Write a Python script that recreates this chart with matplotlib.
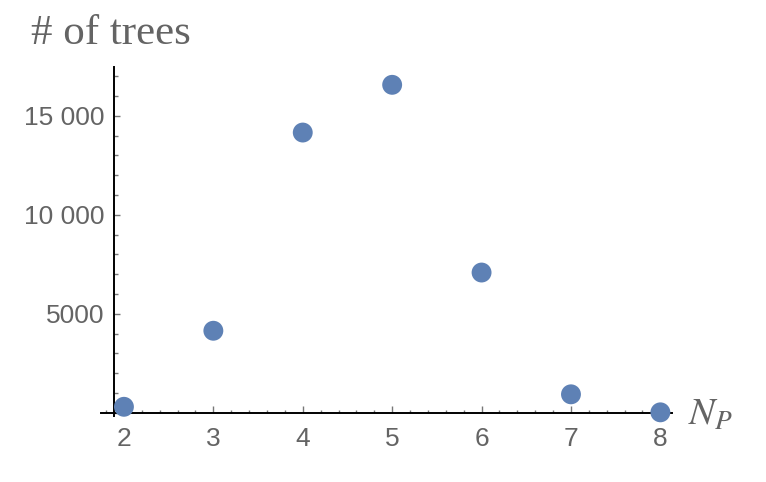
import matplotlib
matplotlib.use("Agg")
import matplotlib.pyplot as plt
from matplotlib.ticker import MultipleLocator, FuncFormatter

# dati
n_p = [2, 3, 4, 5, 6, 7, 8]
trees = [300, 4140, 14150, 16560, 7080, 930, 20]

grigio = '#646464'
blu = '#5E81B5'

plt.rcParams['mathtext.fontset'] = 'stix'

fig = plt.figure(figsize=(7.66, 4.82), dpi=100)
# assi posizionati in pixel
W, H = 766., 482.
left, right, top, bottom = 100.7, 672., 67., 415.7
ax = fig.add_axes([left / W, 1 - bottom / H, (right - left) / W, (bottom - top) / H])

ax.scatter(n_p, trees, s=205, c=blu, edgecolors='none', zorder=3, clip_on=False)

ax.set_xlim(1.74, 8.13)
ax.set_ylim(-150, 17460)

ax.spines['top'].set_visible(False)
ax.spines['right'].set_visible(False)
ax.spines['left'].set_position(('data', 1.885))
ax.spines['bottom'].set_position(('data', 0))
for sp in ('left', 'bottom'):
    ax.spines[sp].set_linewidth(1.4)
    ax.spines[sp].set_color('black')

ax.xaxis.set_major_locator(MultipleLocator(1))
ax.xaxis.set_minor_locator(MultipleLocator(0.2))
ax.yaxis.set_major_locator(MultipleLocator(5000))
ax.yaxis.set_minor_locator(MultipleLocator(1000))

def fmt(v, pos):
    v = int(round(v))
    if v == 0:
        return ''
    if v >= 10000:
        return '{:,}'.format(v).replace(',', ' ')
    return str(v)

ax.yaxis.set_major_formatter(FuncFormatter(fmt))

ax.tick_params(which='both', direction='in', color='#777777', width=1.0,
               labelcolor=grigio, labelsize=19)
ax.tick_params(axis='x', which='major', length=5, pad=10)
ax.tick_params(axis='x', which='minor', length=2.5)
ax.tick_params(axis='y', which='major', length=4.3, pad=6.5)
ax.tick_params(axis='y', which='minor', length=2.8)
for lab in ax.get_xticklabels() + ax.get_yticklabels():
    lab.set_family('Liberation Sans')

fig.text(31 / W, 1 - 44 / H, '# of trees', family='Liberation Serif', fontsize=31,
         color=grigio, ha='left', va='baseline')
fig.text(688 / W, 1 - 425 / H, '$N_P$', fontsize=28, color=grigio,
         ha='left', va='baseline')

fig.savefig('out.png', dpi=100)
